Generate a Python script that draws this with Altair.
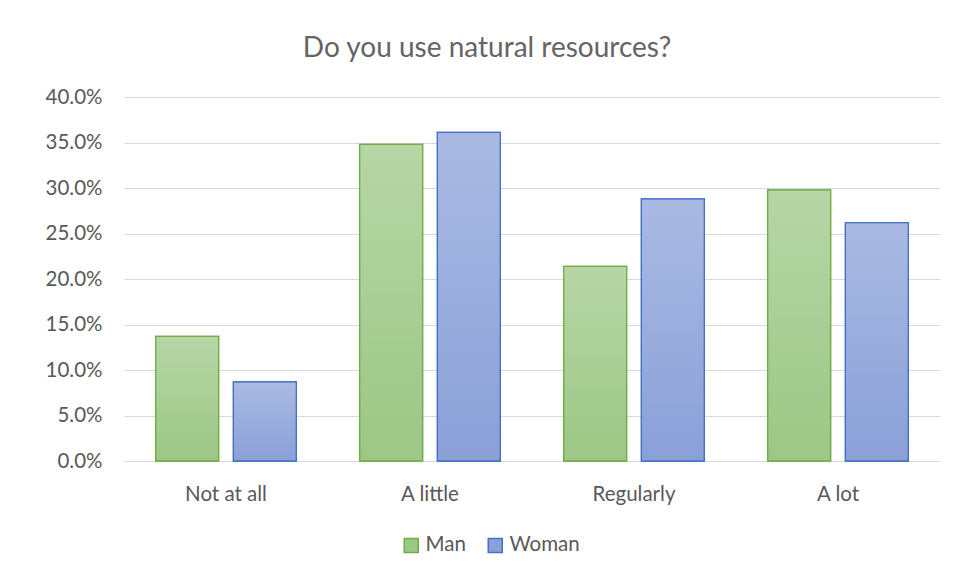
import altair as alt
import pandas as pd

categories = ["Not at all", "A little", "Regularly", "A lot"]
series = ["Man", "Woman"]
man_values = [0.137, 0.348, 0.214, 0.298]
woman_values = [0.087, 0.361, 0.288, 0.262]
y_ticks = [0.0, 0.05, 0.10, 0.15, 0.20, 0.25, 0.30, 0.35, 0.40]

fill_colors = ["#9cc785", "#8aa0d8"]
stroke_colors = ["#70ad47", "#4472c4"]

rows = []
for c, m, w in zip(categories, man_values, woman_values):
    rows.append({"category": c, "series": "Man", "value": m})
    rows.append({"category": c, "series": "Woman", "value": w})
df = pd.DataFrame(rows)

FONT = "Lato"
GRAY = "#595959"
FS = 20.5

x = alt.X(
    "category:N",
    sort=categories,
    scale=alt.Scale(paddingInner=0.31, paddingOuter=0.155),
    axis=alt.Axis(title=None, labelAngle=0, labelPadding=23, ticks=False,
                  domainColor="#d9d9d9", domainWidth=1, grid=False),
)
xo = alt.XOffset("series:N", sort=series,
                 scale=alt.Scale(paddingInner=0.19, paddingOuter=0))
y = alt.Y(
    "value:Q",
    scale=alt.Scale(domain=[0, 0.4], nice=False),
    axis=alt.Axis(title=None, values=y_ticks, format=".1%", domain=False,
                  ticks=False, labelPadding=22, gridColor="#d9d9d9", gridWidth=1),
)

legend = alt.Legend(
    title=None, orient="none", legendX=277, legendY=438, direction="horizontal",
    symbolType="square", symbolSize=196, symbolStrokeWidth=1.5,
    labelFontSize=FS, labelFont=FONT, labelColor=GRAY, labelOffset=4,
    columnPadding=19, padding=0,
)

base = alt.Chart(df).encode(x=x, xOffset=xo, y=y)

fill_layer = base.mark_bar(strokeWidth=1.25).encode(
    fill=alt.Fill("series:N", sort=series,
                  scale=alt.Scale(domain=series, range=fill_colors), legend=legend),
    stroke=alt.Stroke("series:N", sort=series,
                      scale=alt.Scale(domain=series, range=stroke_colors), legend=legend),
)

overlay = base.mark_bar(
    strokeWidth=0,
    fill=alt.Gradient(
        gradient="linear", x1=0, x2=0, y1=0, y2=1,
        stops=[alt.GradientStop(color="rgba(255,255,255,0.27)", offset=0),
               alt.GradientStop(color="rgba(255,255,255,0.0)", offset=1)],
    ),
)

stroke_layer = base.mark_bar(fillOpacity=0, strokeWidth=1.25).encode(
    stroke=alt.Stroke("series:N", sort=series,
                      scale=alt.Scale(domain=series, range=stroke_colors), legend=None),
)

chart = (
    alt.layer(fill_layer, overlay, stroke_layer)
    .properties(
        width=816,
        height=364,
        autosize=alt.AutoSizeParams(type="none"),
        padding={"left": 116, "top": 89, "right": 11, "bottom": 111},
        title=alt.TitleParams(
            "Do you use natural resources?", font=FONT, fontSize=28,
            fontWeight="normal", color="#646464", anchor="middle", frame="group",
            dx=-45, offset=24,
        ),
    )
    .configure_view(stroke=None)
    .configure_axis(labelFont=FONT, labelFontSize=FS, labelColor=GRAY)
)

chart.save("out.html", embed_options={"renderer": "svg", "actions": False})
